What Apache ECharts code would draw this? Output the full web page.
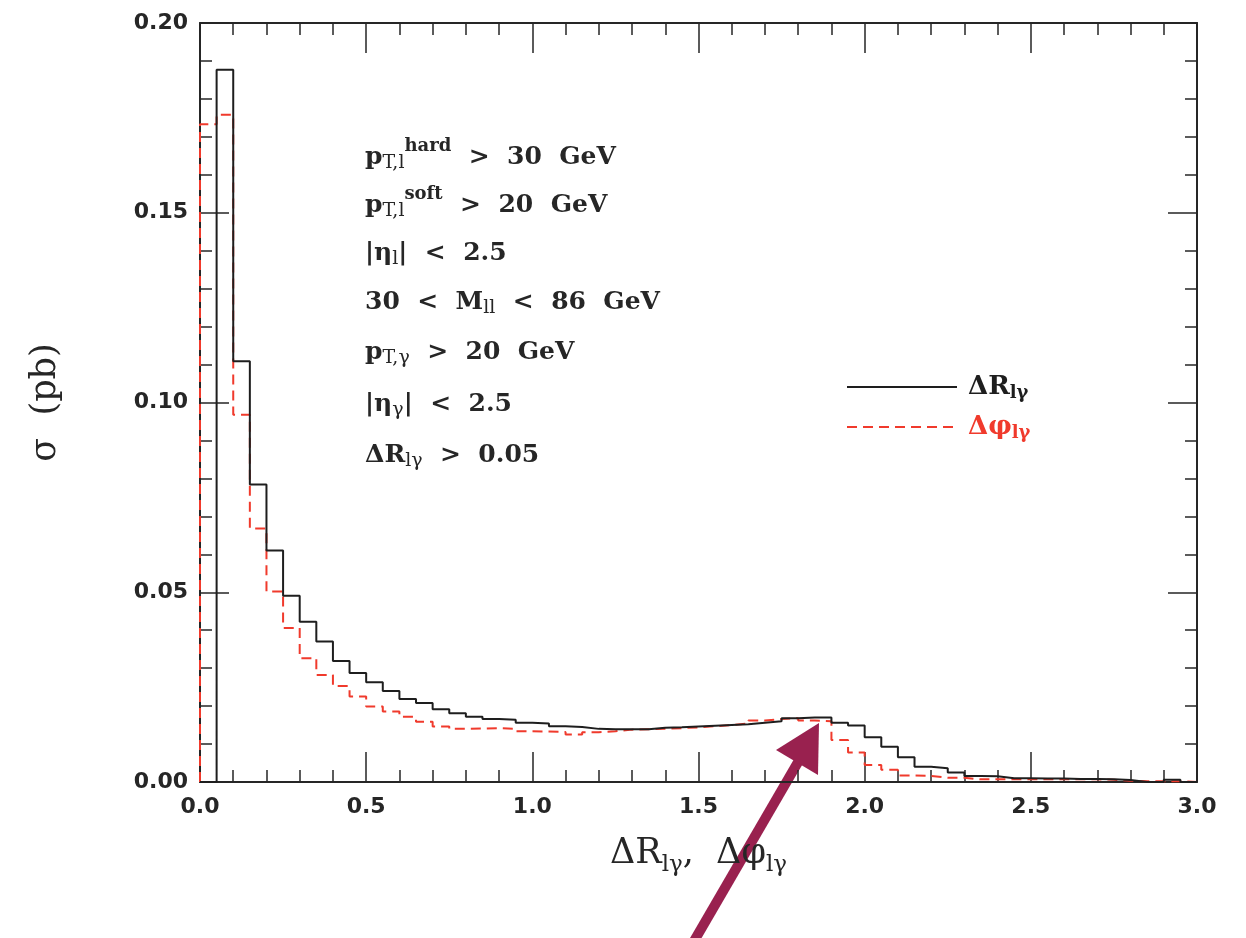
<!DOCTYPE html>
<html>
<head>
<meta charset="utf-8">
<script src="https://cdn.jsdelivr.net/npm/echarts@6/dist/echarts.min.js"></script>
<style>
html,body{margin:0;padding:0;background:#fff;}
#chart{width:1246px;height:938px;}
</style>
</head>
<body>
<div id="chart"></div>
<script>
// ---- data ----
const binWidth = 0.05;
const binStart = 0.0;
// sigma per bin (pb), bins of width 0.05 from 0.00 to 3.00
const deltaR = [
  0.0000, 0.1877, 0.1109, 0.0784, 0.0610, 0.0491, 0.0422, 0.0370, 0.0319, 0.0287,
  0.0263, 0.0240, 0.0219, 0.0208, 0.0192, 0.0181, 0.0172, 0.0166, 0.0164, 0.0156,
  0.0154, 0.0147, 0.0145, 0.0140, 0.0139, 0.0139, 0.0139, 0.0143, 0.0144, 0.0146,
  0.0148, 0.0150, 0.0152, 0.0156, 0.0160, 0.0168, 0.0170, 0.0170, 0.0156, 0.0149,
  0.0118, 0.0093, 0.0065, 0.0040, 0.0036, 0.0025, 0.0016, 0.0015, 0.0010, 0.0010,
  0.0009, 0.0009, 0.0008, 0.0008, 0.0007, 0.0005, 0.0000, 0.0000, 0.0006, 0.0000
];
const deltaPhi = [
  0.1733, 0.1758, 0.0968, 0.0668, 0.0502, 0.0406, 0.0326, 0.0282, 0.0253, 0.0225,
  0.0199, 0.0186, 0.0172, 0.0159, 0.0146, 0.0140, 0.0141, 0.0142, 0.0140, 0.0134,
  0.0133, 0.0132, 0.0125, 0.0131, 0.0134, 0.0138, 0.0139, 0.0140, 0.0142, 0.0144,
  0.0147, 0.0150, 0.0154, 0.0162, 0.0166, 0.0168, 0.0162, 0.0160, 0.0111, 0.0078,
  0.0045, 0.0032, 0.0017, 0.0016, 0.0011, 0.0011, 0.0007, 0.0007, 0.0007, 0.0007,
  0.0007, 0.0007, 0.0007, 0.0007, 0.0006, 0.0003, 0.0002, 0.0002, 0.0002, 0.0000
];
const xTickLabels = ['0.0', '0.5', '1.0', '1.5', '2.0', '2.5', '3.0'];
const yTickLabels = ['0.00', '0.05', '0.10', '0.15', '0.20'];
const seriesNames = ['dR', 'dPhi'];
const cutLines = [
  '{m|p}{sub|T,l}{sup|hard}{m|  >  30  GeV}',
  '{m|p}{sub|T,l}{sup|soft}{m|  >  20  GeV}',
  '{m||η}{sub|l}{m||  <  2.5}',
  '{m|30  <  M}{sub|ll}{m|  <  86  GeV}',
  '{m|p}{sub|T,γ}{m|  >  20  GeV}',
  '{m||η}{sub|γ}{m||  <  2.5}',
  '{m|ΔR}{sub|lγ}{m|  >  0.05}'
];

// ---- build step outlines from the bins ----
function histOutline(vals) {
  const pts = [[binStart, 0]];
  for (let i = 0; i < vals.length; i++) {
    const lo = +(binStart + i * binWidth).toFixed(4);
    const hi = +(binStart + (i + 1) * binWidth).toFixed(4);
    pts.push([lo, vals[i]]);
    pts.push([hi, vals[i]]);
  }
  pts.push([+(binStart + vals.length * binWidth).toFixed(4), 0]);
  return pts;
}

const SERIF = '"DejaVu Serif", "Liberation Serif", serif';
const SANS = '"DejaVu Sans", "Liberation Sans", sans-serif';
const AX = '#262626';
const RED = '#f03a2c';
const BLACK = '#1e1e1e';

const chart = echarts.init(document.getElementById('chart'), null, {renderer: 'canvas'});

function xAxisCfg(pos, showLabel) {
  return {
    type: 'value', position: pos, min: 0, max: 3, interval: 0.5,
    axisLine: {show: true, onZero: false, lineStyle: {color: AX, width: 2}},
    axisTick: {show: true, inside: true, length: 30, lineStyle: {color: AX, width: 1.5}},
    minorTick: {show: true, splitNumber: 5, length: 12, lineStyle: {color: AX, width: 1.5}},
    splitLine: {show: false}, minorSplitLine: {show: false},
    axisLabel: {
      show: showLabel, margin: 14, color: AX, fontFamily: SANS, fontWeight: 'bold', fontSize: 22,
      showMinLabel: true, showMaxLabel: true,
      formatter: v => xTickLabels[Math.round(v / 0.5)]
    }
  };
}
function yAxisCfg(pos, showLabel) {
  return {
    type: 'value', position: pos, min: 0, max: 0.2, interval: 0.05,
    axisLine: {show: true, onZero: false, lineStyle: {color: AX, width: 2}},
    axisTick: {show: true, inside: true, length: 29, lineStyle: {color: AX, width: 1.5}},
    minorTick: {show: true, splitNumber: 5, length: 12, lineStyle: {color: AX, width: 1.5}},
    splitLine: {show: false}, minorSplitLine: {show: false},
    axisLabel: {
      show: showLabel, margin: 12, color: AX, fontFamily: SANS, fontWeight: 'bold', fontSize: 22,
      showMinLabel: true, showMaxLabel: true,
      formatter: v => yTickLabels[Math.round(v / 0.05)]
    }
  };
}

const xMain = xAxisCfg('bottom', true);
xMain.name = '{a|ΔR}{s|lγ}{a|,  Δφ}{s|lγ}';
xMain.nameLocation = 'middle';
xMain.nameGap = 49;
xMain.nameTextStyle = {
  color: AX,
  rich: {
    a: {fontFamily: SERIF, fontSize: 35, color: AX, lineHeight: 46},
    s: {fontFamily: SERIF, fontSize: 23, color: AX, verticalAlign: 'bottom', padding: [0, 0, 0, 0]}
  }
};
const yMain = yAxisCfg('left', true);
yMain.name = 'σ  (pb)';
yMain.nameLocation = 'middle';
yMain.nameRotate = 90;
yMain.nameGap = 137;
yMain.nameTextStyle = {fontFamily: SERIF, fontSize: 35, color: AX};

const legendRich = {
  a: {fontFamily: SERIF, fontSize: 26, fontWeight: 'bold', lineHeight: 30},
  s: {fontFamily: SERIF, fontSize: 18, fontWeight: 'bold', verticalAlign: 'bottom', padding: [0, 0, 0, 0]}
};

const option = {
  animation: false,
  backgroundColor: '#fff',
  grid: {left: 200, right: 49, top: 23, bottom: 156, containLabel: false},
  xAxis: [xMain, xAxisCfg('top', false)],
  yAxis: [yMain, yAxisCfg('right', false)],
  legend: {
    orient: 'vertical', left: 841, top: 369,
    itemWidth: 110, itemHeight: 14, itemGap: 12,
    selectedMode: false,
    itemStyle: {opacity: 0, borderWidth: 0},
    data: [
      {name: seriesNames[0], textStyle: {color: BLACK}},
      {name: seriesNames[1], textStyle: {color: RED}}
    ],
    formatter: n => n === seriesNames[0] ? '{a|ΔR}{s|lγ}' : '{a|Δφ}{s|lγ}',
    textStyle: {padding: [0, 0, 0, 6], rich: legendRich}
  },
  series: [
    {
      name: seriesNames[1], type: 'line', xAxisIndex: 0, yAxisIndex: 0,
      data: histOutline(deltaPhi), symbol: 'none', clip: true,
      lineStyle: {color: RED, width: 2, type: [10, 6]}, itemStyle: {color: RED}, z: 2
    },
    {
      name: seriesNames[0], type: 'line', xAxisIndex: 0, yAxisIndex: 0,
      data: histOutline(deltaR), symbol: 'none', clip: true,
      lineStyle: {color: BLACK, width: 2}, itemStyle: {color: BLACK}, z: 3
    }
  ],
  graphic: []
};

const cutY = [157, 205, 253, 302, 352, 404, 455];
const cutRich = {
  m: {fontFamily: SERIF, fontSize: 25, fontWeight: 'bold', fill: AX, lineHeight: 40},
  sub: {fontFamily: SERIF, fontSize: 19, fill: AX, verticalAlign: 'bottom', padding: [0, 0, 4, 0]},
  sup: {fontFamily: SERIF, fontSize: 18, fontWeight: 'bold', fill: AX, verticalAlign: 'top'}
};
cutLines.forEach((t, i) => {
  option.graphic.push({
    type: 'text', x: 365, y: cutY[i], z: 10,
    style: {text: t, rich: cutRich, fill: AX, font: 'bold 25px ' + SERIF, verticalAlign: 'middle', align: 'left'}
  });
});

// annotation arrow
option.graphic.push({
  type: 'group', z: 20,
  children: [
    {type: 'line', shape: {x1: 690, y1: 948, x2: 801, y2: 757}, style: {stroke: '#99214f', lineWidth: 10}},
    {type: 'polygon', shape: {points: [[819, 723], [776, 750], [818, 775]]}, style: {fill: '#99214f'}}
  ]
});

chart.setOption(option);
</script>
</body>
</html>
